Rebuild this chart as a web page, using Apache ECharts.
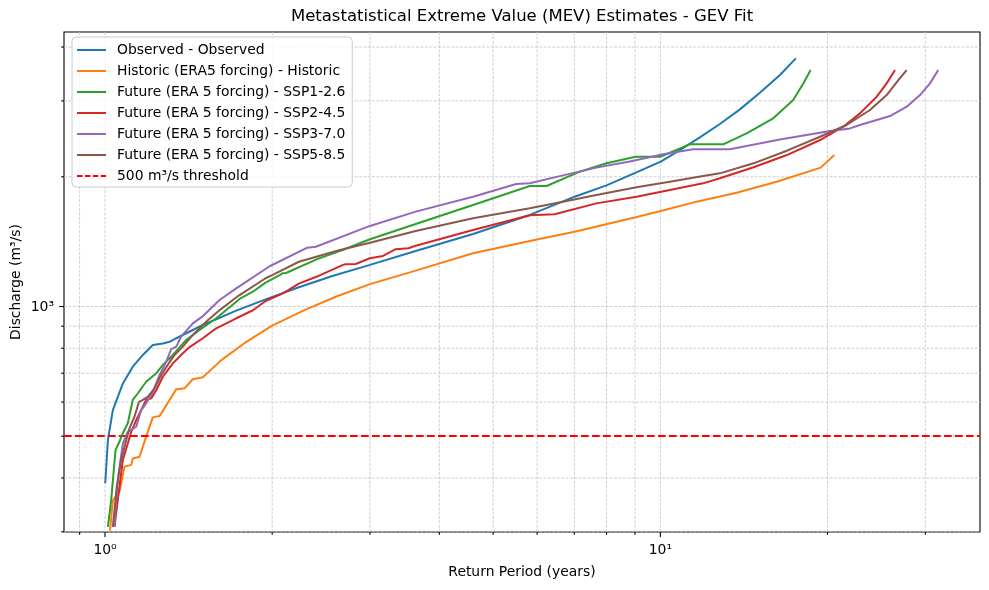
<!DOCTYPE html>
<html>
<head>
<meta charset="utf-8">
<script src="https://cdn.jsdelivr.net/npm/echarts@6.0.0/dist/echarts.min.js"></script>
<style>
html,body{margin:0;padding:0;background:#fff;}
#main{width:989px;height:590px;}
</style>
</head>
<body>
<div id="main"></div>
<script>
// ---------------- data ----------------
const obsT = [1.001,1.012,1.033,1.077,1.122,1.170,1.219,1.271,1.307,1.344,1.439,1.501,1.723,1.946,2.234,2.567,3.0,3.626,4.60,5.82,7.01,8.02,9.03,10.02,10.84,11.78,12.80,13.91,15.11,16.42,17.54];
const obsQ = [389,490,575,663,725,772,814,821,828,844,882,906,978,1039,1108,1177,1249,1345,1473,1631,1798,1913,2044,2168,2307,2469,2651,2867,3134,3444,3766];

const histT = [1.021,1.033,1.062,1.084,1.115,1.122,1.154,1.186,1.219,1.254,1.307,1.344,1.391,1.439,1.500,1.586,1.620,1.797,2.0,2.285,2.61,3.0,3.626,4.60,6.02,7.01,8.02,9.03,10.02,11.62,13.72,16.2,19.45,20.57];
const histQ = [302,355,372,425,429,444,448,499,553,557,607,643,646,678,685,732,751,828,903,981,1055,1127,1211,1329,1432,1491,1554,1611,1666,1751,1837,1948,2100,2246];

const ssp126T = [1.012,1.026,1.0445,1.062,1.0767,1.099,1.122,1.146,1.186,1.237,1.271,1.325,1.400,1.480,1.586,1.747,1.846,1.946,2.063,2.086,2.118,2.41,2.70,3.0,3.626,4.60,5.82,6.24,7.16,8.00,9.03,9.99,11.30,12.98,14.30,15.97,17.35,18.09,18.65];
const ssp126Q = [308,356,464,486,508,536,607,629,669,700,732,772,836,882,939,1041,1082,1136,1183,1194,1196,1288,1358,1432,1554,1720,1904,1904,2055,2149,2226,2226,2378,2378,2523,2733,3013,3294,3538];

const ssp245T = [1.040,1.0545,1.0766,1.099,1.115,1.138,1.162,1.186,1.211,1.237,1.271,1.325,1.381,1.420,1.500,1.586,1.609,1.699,1.723,1.847,1.946,2.091,2.234,2.402,2.683,2.713,2.827,3.0,3.166,3.337,3.52,3.626,4.60,5.82,6.45,7.67,9.06,10.40,11.94,12.80,14.72,16.9,19.4,21.35,22.88,24.53,25.56,26.46];
const ssp245Q = [308,356,440,481,512,545,575,607,612,640,687,738,779,805,844,890,898,930,939,980,1030,1073,1130,1172,1249,1253,1255,1294,1310,1358,1365,1384,1505,1628,1637,1735,1798,1864,1931,1984,2104,2246,2434,2614,2806,3068,3294,3538];

const ssp370T = [1.040,1.047,1.059,1.077,1.099,1.115,1.138,1.162,1.186,1.219,1.254,1.289,1.316,1.344,1.371,1.439,1.501,1.608,1.723,1.979,2.314,2.397,3.0,3.626,4.60,5.50,5.82,6.68,7.67,8.81,10.12,11.45,13.34,16.42,20.1,21.95,22.88,25.92,27.78,29.35,30.59,31.66];
const ssp370Q = [308,356,414,481,512,517,526,575,596,634,694,745,796,807,851,914,950,1035,1102,1240,1369,1376,1538,1660,1798,1925,1931,2015,2100,2170,2255,2316,2316,2440,2550,2590,2637,2767,2908,3095,3294,3538];

const ssp585T = [1.033,1.050,1.069,1.092,1.107,1.130,1.151,1.170,1.195,1.228,1.263,1.297,1.334,1.381,1.439,1.521,1.609,1.699,1.747,1.946,2.0,2.234,2.638,3.0,3.626,4.60,5.82,6.68,7.67,9.06,10.40,11.94,12.80,14.72,16.9,19.39,21.65,23.85,25.56,26.83,27.78];
const ssp585Q = [308,382,440,490,522,555,601,607,618,646,694,732,772,807,859,922,981,1035,1063,1163,1183,1270,1350,1406,1497,1602,1690,1751,1814,1891,1948,2009,2037,2149,2299,2477,2637,2857,3095,3354,3538];

const threshold = 500;

const seriesNames = [
  'Observed - Observed',
  'Historic (ERA5 forcing) - Historic',
  'Future (ERA 5 forcing) - SSP1-2.6',
  'Future (ERA 5 forcing) - SSP2-4.5',
  'Future (ERA 5 forcing) - SSP3-7.0',
  'Future (ERA 5 forcing) - SSP5-8.5'
];
const thresholdName = '500 m³/s threshold';

// axis limits and tick values
const xLimits = [0.8436, 37.64];
const yLimits = [299.7, 4335];
const xMajorTicks = [1, 10];
const xMajorLabels = ['10⁰', '10¹'];
const xMinorTicks = [0.9, 2, 3, 4, 5, 6, 7, 8, 9, 20, 30];
const yMajorTicks = [1000];
const yMajorLabels = ['10³'];
const yMinorTicks = [300, 400, 500, 600, 700, 800, 900, 2000, 3000, 4000];

const titleText = 'Metastatistical Extreme Value (MEV) Estimates - GEV Fit';
const xTitle = 'Return Period (years)';
const yTitle = 'Discharge (m³/s)';

// ---------------- chart ----------------
const colors = ['#1f77b4', '#ff7f0e', '#2ca02c', '#d62728', '#9467bd', '#8c564b'];
const FONT = 'DejaVu Sans';
const zip = (a, b) => a.map((v, i) => [v, b[i]]);
const allT = [obsT, histT, ssp126T, ssp245T, ssp370T, ssp585T];
const allQ = [obsQ, histQ, ssp126Q, ssp245Q, ssp370Q, ssp585Q];

const series = seriesNames.map((name, i) => ({
  name: name,
  type: 'line',
  data: zip(allT[i], allQ[i]),
  symbol: 'none',
  showSymbol: false,
  smooth: false,
  clip: true,
  z: 3 + i,
  lineStyle: { color: colors[i], width: 2 },
  itemStyle: { color: colors[i], opacity: 0 },
  emphasis: { disabled: true }
}));
series.push({
  name: thresholdName,
  type: 'line',
  data: [],
  symbol: 'none',
  z: 10,
  lineStyle: { color: '#ff0000', width: 1.5, type: [5.5, 2.4] },
  itemStyle: { color: '#ff0000', opacity: 0 },
  markLine: {
    silent: true,
    symbol: ['none', 'none'],
    label: { show: false },
    animation: false,
    lineStyle: { color: '#ff0000', width: 2, type: [7.7, 3.3], opacity: 1 },
    emphasis: { disabled: true },
    data: [{ yAxis: threshold }]
  }
});

const chart = echarts.init(document.getElementById('main'), null, { renderer: 'canvas' });
const option = {
  animation: false,
  backgroundColor: '#ffffff',
  textStyle: { fontFamily: FONT },
  title: {
    text: titleText,
    left: 522, top: 7, padding: 0,
    textAlign: 'center',
    textStyle: { fontFamily: FONT, fontSize: 16.5, fontWeight: 'normal', color: '#000', lineHeight: 20 }
  },
  grid: {
    left: 64, top: 32, right: 9, bottom: 58,
    show: true, borderColor: '#000', borderWidth: 1.1, backgroundColor: 'transparent',
    containLabel: false
  },
  legend: {
    orient: 'vertical',
    left: 72, top: 37,
    itemWidth: 29, itemHeight: 14, itemGap: 7,
    padding: [6, 7, 4, 4],
    backgroundColor: 'rgba(255,255,255,0.8)',
    borderColor: '#cccccc', borderWidth: 1, borderRadius: 4,
    itemStyle: { opacity: 0 },
    textStyle: { fontFamily: FONT, fontSize: 13.9, color: '#000', padding: [0, 0, 0, 6], lineHeight: 14 },
    selectedMode: false,
    z: 20,
    data: seriesNames.concat([thresholdName])
  },
  xAxis: {
    type: 'log', logBase: 10, min: xLimits[0], max: xLimits[1],
    axisLine: { show: false }, axisTick: { show: false },
    axisLabel: { show: false }, splitLine: { show: false }, minorTick: { show: false }
  },
  yAxis: {
    type: 'log', logBase: 10, min: yLimits[0], max: yLimits[1],
    axisLine: { show: false }, axisTick: { show: false },
    axisLabel: { show: false }, splitLine: { show: false }, minorTick: { show: false }
  },
  series: series
};
chart.setOption(option);

// grid lines, ticks and tick labels placed through the axes' own scales
const xp = v => chart.convertToPixel({ xAxisIndex: 0 }, v);
const yp = v => chart.convertToPixel({ yAxisIndex: 0 }, v);
const L = xp(xLimits[0]), R = xp(xLimits[1]);
const B = yp(yLimits[0]), T = yp(yLimits[1]);
const g = [];
const gridStyle = { stroke: '#c4c4c4', lineWidth: 0.8, lineDash: [3, 1.4] };
const tickStyle = { stroke: '#000', lineWidth: 1.1 };
xMajorTicks.concat(xMinorTicks).forEach(v => {
  const x = xp(v);
  g.push({ type: 'line', silent: true, z: 0, shape: { x1: x, y1: T, x2: x, y2: B }, style: gridStyle });
});
yMajorTicks.concat(yMinorTicks).forEach(v => {
  const y = yp(v);
  g.push({ type: 'line', silent: true, z: 0, shape: { x1: L, y1: y, x2: R, y2: y }, style: gridStyle });
});
xMajorTicks.forEach((v, i) => {
  const x = xp(v);
  g.push({ type: 'line', silent: true, z: 50, shape: { x1: x, y1: B, x2: x, y2: B + 4.9 }, style: tickStyle });
  g.push({ type: 'text', silent: true, z: 50, x: x, y: B + 18,
    style: { text: xMajorLabels[i], fontFamily: FONT, fontSize: 13.9, fill: '#000', align: 'center', verticalAlign: 'middle' } });
});
xMinorTicks.forEach(v => {
  const x = xp(v);
  g.push({ type: 'line', silent: true, z: 50, shape: { x1: x, y1: B, x2: x, y2: B + 2.8 }, style: tickStyle });
});
yMajorTicks.forEach((v, i) => {
  const y = yp(v);
  g.push({ type: 'line', silent: true, z: 50, shape: { x1: L, y1: y, x2: L - 4.9, y2: y }, style: tickStyle });
  g.push({ type: 'text', silent: true, z: 50, x: L - 10, y: y + 1,
    style: { text: yMajorLabels[i], fontFamily: FONT, fontSize: 13.9, fill: '#000', align: 'right', verticalAlign: 'middle' } });
});
yMinorTicks.forEach(v => {
  const y = yp(v);
  g.push({ type: 'line', silent: true, z: 50, shape: { x1: L, y1: y, x2: L - 2.8, y2: y }, style: tickStyle });
});
g.push({ type: 'text', silent: true, z: 50, x: (L + R) / 2, y: 572,
  style: { text: xTitle, fontFamily: FONT, fontSize: 13.9, fill: '#000', align: 'center', verticalAlign: 'middle' } });
g.push({ type: 'text', silent: true, z: 50, x: 16, y: (T + B) / 2, rotation: Math.PI / 2,
  style: { text: yTitle, fontFamily: FONT, fontSize: 13.9, fill: '#000', align: 'center', verticalAlign: 'middle' } });
chart.setOption({ graphic: { elements: g } });
</script>
</body>
</html>
